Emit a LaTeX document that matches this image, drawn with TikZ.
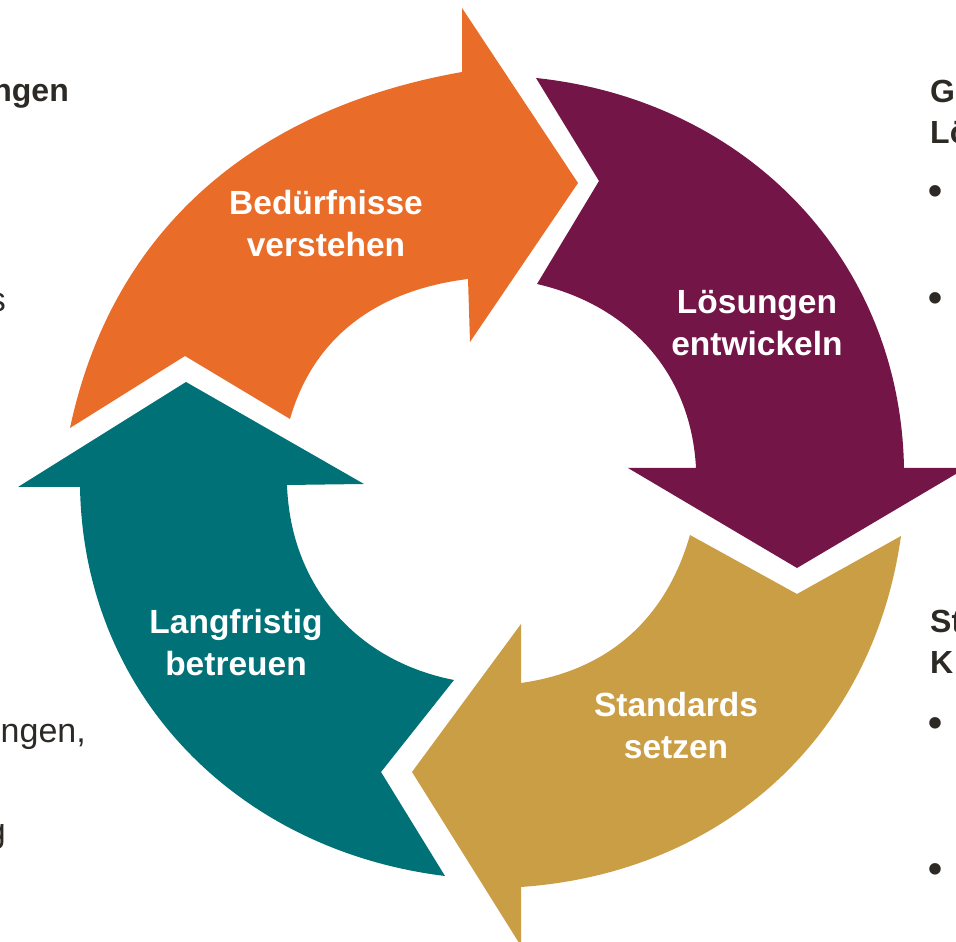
\documentclass[tikz,border=0pt]{standalone}
\usepackage{fontspec}
\setmainfont{Liberation Sans}
\definecolor{cOrange}{HTML}{E96C29}
\definecolor{cPurple}{HTML}{741548}
\definecolor{cGold}{HTML}{CA9E45}
\definecolor{cTeal}{HTML}{007177}
\definecolor{cText}{HTML}{2D2A26}
\begin{document}
\begin{tikzpicture}[x=1pt,y=1pt,
  lbl/.style={text=white, font=\fontsize{33.5}{42}\selectfont\bfseries, align=center, inner sep=0pt},
  side/.style={text=cText, inner sep=0pt, font=\fontsize{34}{41}\selectfont},
  sideb/.style={text=cText, inner sep=0pt, font=\fontsize{32}{40}\selectfont\bfseries},
  bul/.style={text=cText, inner sep=0pt, font=\fontsize{40}{40}\selectfont\bfseries}]
\useasboundingbox (0,0) rectangle (956,942);
% Orange arrow
\fill[cOrange] (70,942-428) to[out=78,in=190] (462,942-72) -- (462,942-8) -- (578,942-183)
  -- (470,942-342) -- (468,942-279) to[out=187,in=74] (290,942-419) -- (185,942-356) -- cycle;
% Purple arrow
\fill[cPurple] (536,942-78) to[out=-6,in=91] (904,942-468) -- (966,942-468) -- (797,942-568)
  -- (628,942-468) -- (696,942-468) to[out=93,in=-13] (537,942-284) -- (599,942-181) -- cycle;
% Gold arrow
\fill[cGold] (901,942-536) to[out=-98,in=4] (521,942-887) -- (521,942-946) -- (412,942-772)
  -- (521,942-624) -- (521,942-683) to[out=8,in=254] (690,942-535) -- (797,942-594) -- cycle;
% Teal arrow
\fill[cTeal] (445,942-876) to[out=173,in=271] (80,942-487) -- (18,942-487) -- (186,942-382)
  -- (364,942-484) -- (287,942-485) to[out=-88,in=169] (454,942-680) -- (381,942-772) -- cycle;
% Labels
\node[lbl] (n1) at (326,942-224) {Bedürfnisse\\verstehen};
\node[lbl] (n2) at (757,942-323) {Lösungen\\entwickeln};
\node[lbl] (n3) at (676,942-726) {Standards\\setzen};
\node[lbl] (n4) at (236,942-643) {Langfristig\\betreuen};
% Side texts (cut at the page edges)
\node[sideb, anchor=base east] (l1) at (69,942-102) {ngen};
\node[side, anchor=base east] (l2) at (6,942-312) {s};
\node[side, anchor=base east] (l3) at (86,942-743) {ngen,};
\node[side, anchor=base east] (l4) at (6,942-843) {g};
\node[sideb, anchor=base west] (r1) at (930,942-103) {G};
\node[sideb, anchor=base west] (r2) at (930,942-144) {Lö};
\node[bul] (r3) at (935,942-195) {•};
\node[bul] (r4) at (935,942-302) {•};
\node[sideb, anchor=base west] (r5) at (930,942-633) {St};
\node[sideb, anchor=base west] (r6) at (930,942-674) {K};
\node[bul] (r7) at (935,942-727) {•};
\node[bul] (r8) at (935,942-873) {•};
\end{tikzpicture}
\end{document}
